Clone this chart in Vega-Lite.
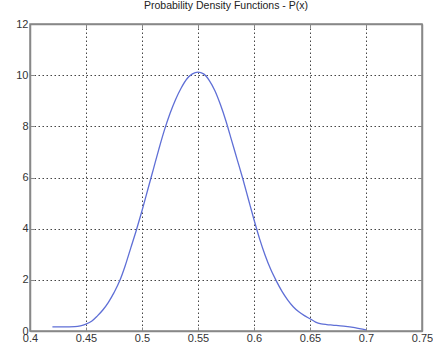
{
  "$schema": "https://vega.github.io/schema/vega-lite/v6.json",
  "autosize": "none",
  "width": 392,
  "height": 307,
  "padding": {"left": 30, "top": 24, "right": 11, "bottom": 19},
  "background": "white",
  "title": {"text": "Probability Density Functions - P(x)", "font": "Liberation Sans", "fontSize": 10.5, "fontWeight": "normal", "color": "#222", "offset": 7},
  "config": {
    "view": {"stroke": "#888", "strokeWidth": 1.5},
    "axis": {"labelFont": "Liberation Sans", "labelFontSize": 11, "labelColor": "#333", "domainColor": "#888", "domainWidth": 1.5, "tickColor": "#888", "tickSize": -4, "gridColor": "#444", "gridDash": [1.5, 2.5], "gridWidth": 1, "labelFlush": false, "labelOverlap": false, "title": null}
  },
  "data": {"values": [
    {"x": 0.420, "p": 0.16}, {"x": 0.430, "p": 0.16}, {"x": 0.440, "p": 0.17}, {"x": 0.445, "p": 0.20},
    {"x": 0.450, "p": 0.27}, {"x": 0.455, "p": 0.38}, {"x": 0.460, "p": 0.58}, {"x": 0.465, "p": 0.82},
    {"x": 0.470, "p": 1.12}, {"x": 0.475, "p": 1.50}, {"x": 0.480, "p": 1.95}, {"x": 0.485, "p": 2.55},
    {"x": 0.490, "p": 3.25}, {"x": 0.495, "p": 3.95}, {"x": 0.500, "p": 4.70}, {"x": 0.505, "p": 5.50},
    {"x": 0.510, "p": 6.30}, {"x": 0.515, "p": 7.10}, {"x": 0.520, "p": 7.85}, {"x": 0.525, "p": 8.50},
    {"x": 0.530, "p": 9.05}, {"x": 0.535, "p": 9.50}, {"x": 0.540, "p": 9.85}, {"x": 0.545, "p": 10.05},
    {"x": 0.550, "p": 10.12}, {"x": 0.555, "p": 10.05}, {"x": 0.560, "p": 9.80}, {"x": 0.565, "p": 9.40},
    {"x": 0.570, "p": 8.85}, {"x": 0.575, "p": 8.20}, {"x": 0.580, "p": 7.45}, {"x": 0.585, "p": 6.70},
    {"x": 0.590, "p": 5.95}, {"x": 0.595, "p": 5.15}, {"x": 0.600, "p": 4.35}, {"x": 0.605, "p": 3.60},
    {"x": 0.610, "p": 2.95}, {"x": 0.615, "p": 2.40}, {"x": 0.620, "p": 1.95}, {"x": 0.625, "p": 1.55},
    {"x": 0.630, "p": 1.22}, {"x": 0.635, "p": 0.95}, {"x": 0.640, "p": 0.75}, {"x": 0.645, "p": 0.60},
    {"x": 0.650, "p": 0.48}, {"x": 0.655, "p": 0.35}, {"x": 0.660, "p": 0.28}, {"x": 0.665, "p": 0.25},
    {"x": 0.670, "p": 0.23}, {"x": 0.680, "p": 0.19}, {"x": 0.690, "p": 0.13}, {"x": 0.700, "p": 0.04}
  ]},
  "layer": [
    {
      "mark": {"type": "line", "color": "#5f6fd6", "strokeWidth": 1.3, "interpolate": "monotone"},
      "encoding": {
        "x": {"field": "x", "type": "quantitative", "scale": {"domain": [0.4, 0.75], "nice": false, "zero": false},
              "axis": {"orient": "bottom", "values": [0.4, 0.45, 0.5, 0.55, 0.6, 0.65, 0.7, 0.75], "format": "~g", "labelPadding": 5, "grid": true}},
        "y": {"field": "p", "type": "quantitative", "scale": {"domain": [0, 12], "nice": false},
              "axis": {"orient": "left", "values": [0, 2, 4, 6, 8, 10, 12], "labelPadding": 6, "grid": true}}
      }
    },
    {
      "mark": {"type": "line", "opacity": 0},
      "encoding": {
        "x": {"field": "x", "type": "quantitative", "axis": {"orient": "top", "values": [0.4, 0.45, 0.5, 0.55, 0.6, 0.65, 0.7, 0.75], "labels": false, "grid": false}},
        "y": {"field": "p", "type": "quantitative", "axis": {"orient": "right", "values": [0, 2, 4, 6, 8, 10, 12], "labels": false, "grid": false}}
      }
    }
  ],
  "resolve": {"axis": {"x": "independent", "y": "independent"}}
}
